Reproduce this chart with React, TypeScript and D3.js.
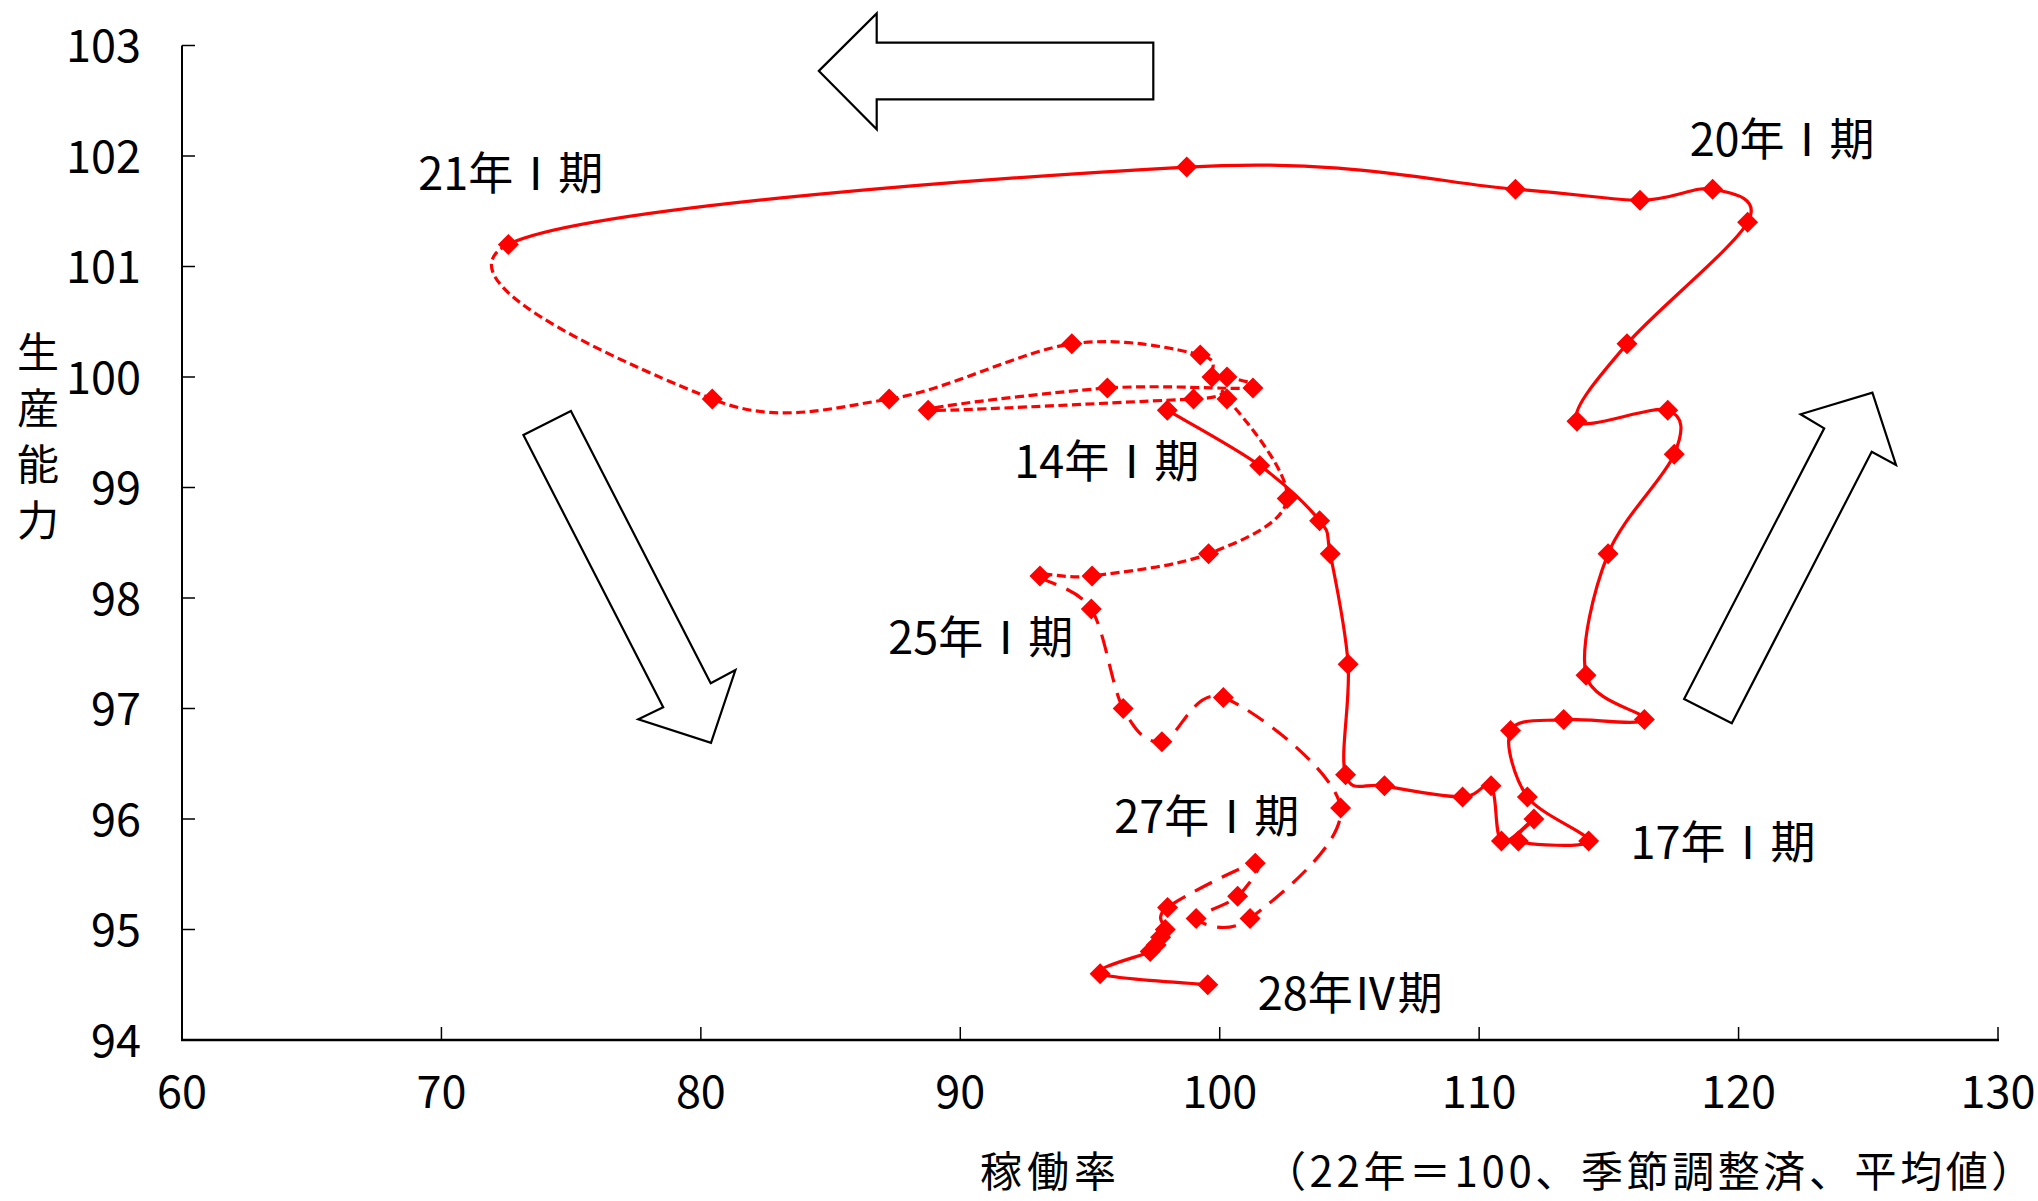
import React from "react";
import * as d3 from "d3";

// ---- data ----
const quarters = [
  "14I","14II","14III","14IV","15I","15II","15III","15IV",
  "16I","16II","16III","16IV","17I","17II","17III","17IV",
  "18I","18II","18III","18IV","19I","19II","19III","19IV",
  "20I","20II","20III","20IV","21I","21II","21III","21IV",
  "22I","22II","22III","22IV","23I","23II","23III","23IV",
  "24I","24II","24III","24IV","25I","25II","25III","25IV",
  "26I","26II","26III","26IV","27I","27II","27III","27IV",
  "28I","28II","28III","28IV",
];
// 稼働率 (x)
const utilization = [
  97.98, 101.54, 103.85, 104.26, 104.95, 104.85, 106.35, 109.36,
  110.46, 110.86, 112.11, 111.51, 114.22, 111.86, 111.21, 113.26,
  116.37, 114.12, 114.97, 117.52, 117.27, 113.77, 115.7, 120.35,
  119.0, 116.2, 111.4, 98.73, 72.58, 80.44, 87.26, 94.3,
  99.25, 99.7, 100.28, 101.28, 95.67, 88.76, 98.99, 100.28,
  102.6, 99.57, 95.08, 93.07, 95.05, 96.28, 97.77, 100.14,
  104.66, 101.17, 99.09, 100.69, 101.37, 97.99, 97.9, 97.72,
  97.55, 97.32, 95.39, 99.54,
];
// 生産能力 (y)
const capacity = [
  99.7, 99.2, 98.7, 98.4, 97.4, 96.4, 96.3, 96.2,
  96.3, 95.8, 96.0, 95.8, 95.8, 96.2, 96.8, 96.9,
  96.9, 97.3, 98.4, 99.3, 99.7, 99.6, 100.3, 101.4,
  101.7, 101.6, 101.7, 101.9, 101.2, 99.8, 99.8, 100.3,
  100.2, 100.0, 100.0, 99.9, 99.9, 99.7, 99.8, 99.8,
  98.9, 98.4, 98.2, 98.2, 97.9, 97.0, 96.7, 97.1,
  96.1, 95.1, 95.1, 95.3, 95.6, 95.2, 95.0, 94.93,
  94.86, 94.8, 94.6, 94.5,
];
const xTicks = [60, 70, 80, 90, 100, 110, 120, 130];
const yTicks = [94, 95, 96, 97, 98, 99, 100, 101, 102, 103];

// period labels: quarter index + text
const periodLabels = [
  { idx: 0, text: "14年Ⅰ期" },
  { idx: 12, text: "17年Ⅰ期" },
  { idx: 24, text: "20年Ⅰ期" },
  { idx: 28, text: "21年Ⅰ期" },
  { idx: 44, text: "25年Ⅰ期" },
  { idx: 52, text: "27年Ⅰ期" },
  { idx: 59, text: "28年Ⅳ期" },
];

// ---- layout / style ----
const W = 2038;
const H = 1201;
const FONT = "'Noto Sans CJK JP', 'Noto Sans', sans-serif";
const RED = "#FF0000";
const labelOffsets: Record<number, [number, number]> = {
  0: [-153, 48],
  12: [42, -2],
  24: [-23, -53],
  28: [-90, -74],
  44: [-203, 25],
  52: [-141, -50],
  59: [50, 6],
};
// segment style runs (segment i joins point i and i+1)
const runs = [
  { from: 0, to: 28, dash: "none" },
  { from: 28, to: 43, dash: "9,4.5" },
  { from: 43, to: 53, dash: "19,11" },
  { from: 53, to: 59, dash: "none" },
];
// decorative arrows, in data units
const arrowTop = [
  [84.55, 102.77], [86.78, 103.29], [86.78, 103.025], [97.44, 103.025],
  [97.44, 102.513], [86.78, 102.513], [86.78, 102.242],
];
const arrowDown = [
  [73.16, 99.475], [74.99, 99.692], [80.38, 97.228], [81.33, 97.348],
  [80.39, 96.69], [77.59, 96.902], [78.55, 97.011],
];
const arrowUp = [
  [117.9, 97.086], [119.74, 96.866], [125.13, 99.324], [126.07, 99.204],
  [125.16, 99.858], [122.39, 99.662], [123.3, 99.536],
];

export default function App() {
  const x = d3.scaleLinear().domain([60, 130]).range([182, 1998]);
  const y = d3.scaleLinear().domain([94, 103]).range([1040, 45.5]);

  const pts = utilization.map((u, i) => [x(u), y(capacity[i])] as [number, number]);
  const n = pts.length;
  const P = (i: number) => pts[Math.max(0, Math.min(n - 1, i))];

  const runPath = (from: number, to: number) => {
    const p = d3.path();
    p.moveTo(pts[from][0], pts[from][1]);
    for (let i = from; i < to; i++) {
      const p0 = P(i - 1), p1 = P(i), p2 = P(i + 1), p3 = P(i + 2);
      const c1x = p1[0] + (p2[0] - p0[0]) / 6;
      const c1y = p1[1] + (p2[1] - p0[1]) / 6;
      const c2x = p2[0] - (p3[0] - p1[0]) / 6;
      const c2y = p2[1] - (p3[1] - p1[1]) / 6;
      p.bezierCurveTo(c1x, c1y, c2x, c2y, p2[0], p2[1]);
    }
    return p.toString();
  };

  const poly = (a: number[][]) =>
    a.map((d) => `${x(d[0]).toFixed(1)},${y(d[1]).toFixed(1)}`).join(" ");

  const md = 10.5;
  const diamond = (cx: number, cy: number) =>
    `M${cx},${cy - md}L${cx + md},${cy}L${cx},${cy + md}L${cx - md},${cy}Z`;

  const yTitle = ["生", "産", "能", "力"];

  return (
    <svg
      width={W}
      height={H}
      style={{ position: "absolute", left: 0, top: 0, display: "block", background: "#fff" }}
      fontFamily={FONT}
    >
      <rect x={0} y={0} width={W} height={H} fill="#fff" />
      {/* axes */}
      <line x1={x(60)} x2={x(60)} y1={y(103)} y2={y(94) + 1} stroke="#000" strokeWidth={2} />
      <line x1={x(60) - 1} x2={x(130) + 1} y1={y(94)} y2={y(94)} stroke="#000" strokeWidth={2.5} />
      {yTicks.map((t) => (
        <g key={"y" + t}>
          <line x1={x(60)} x2={x(60) + 13} y1={y(t)} y2={y(t)} stroke="#000" strokeWidth={1.5} />
          <text x={141} y={y(t) - 3} fontSize={45} textAnchor="end" dominantBaseline="central" fill="#000">
            {t}
          </text>
        </g>
      ))}
      {xTicks.map((t) => (
        <g key={"x" + t}>
          <line x1={x(t)} x2={x(t)} y1={y(94)} y2={y(94) - 13} stroke="#000" strokeWidth={1.5} />
          <text x={x(t)} y={1088} fontSize={45} textAnchor="middle" dominantBaseline="central" fill="#000">
            {t}
          </text>
        </g>
      ))}
      {/* axis titles */}
      {yTitle.map((c, i) => (
        <text key={c} x={38} y={349 + i * 56} fontSize={42} textAnchor="middle" dominantBaseline="central" fill="#000">
          {c}
        </text>
      ))}
      <text x={980} y={1168} fontSize={42} letterSpacing={5} dominantBaseline="central" fill="#000">稼働率</text>
      <text x={1264} y={1168} fontSize={42} letterSpacing={3.6} dominantBaseline="central" fill="#000">
        （22年＝100、季節調整済、平均値）
      </text>

      {/* arrows */}
      {[arrowTop, arrowDown, arrowUp].map((a, i) => (
        <polygon key={"a" + i} points={poly(a)} fill="#fff" stroke="#000" strokeWidth={2.2} strokeLinejoin="miter" />
      ))}

      {/* series */}
      {runs.map((r, i) => (
        <path
          key={"r" + i}
          d={runPath(r.from, r.to)}
          fill="none"
          stroke={RED}
          strokeWidth={3.2}
          strokeDasharray={r.dash === "none" ? undefined : r.dash}
        />
      ))}
      {pts.map((p, i) => (
        <path key={quarters[i]} d={diamond(p[0], p[1])} fill={RED} />
      ))}

      {/* period labels */}
      {periodLabels.map((l) => (
        <text
          key={l.text}
          x={pts[l.idx][0] + labelOffsets[l.idx][0]}
          y={pts[l.idx][1] + labelOffsets[l.idx][1]}
          fontSize={45}
          dominantBaseline="central"
          fill="#000"
        >
          {l.text}
        </text>
      ))}
    </svg>
  );
}
